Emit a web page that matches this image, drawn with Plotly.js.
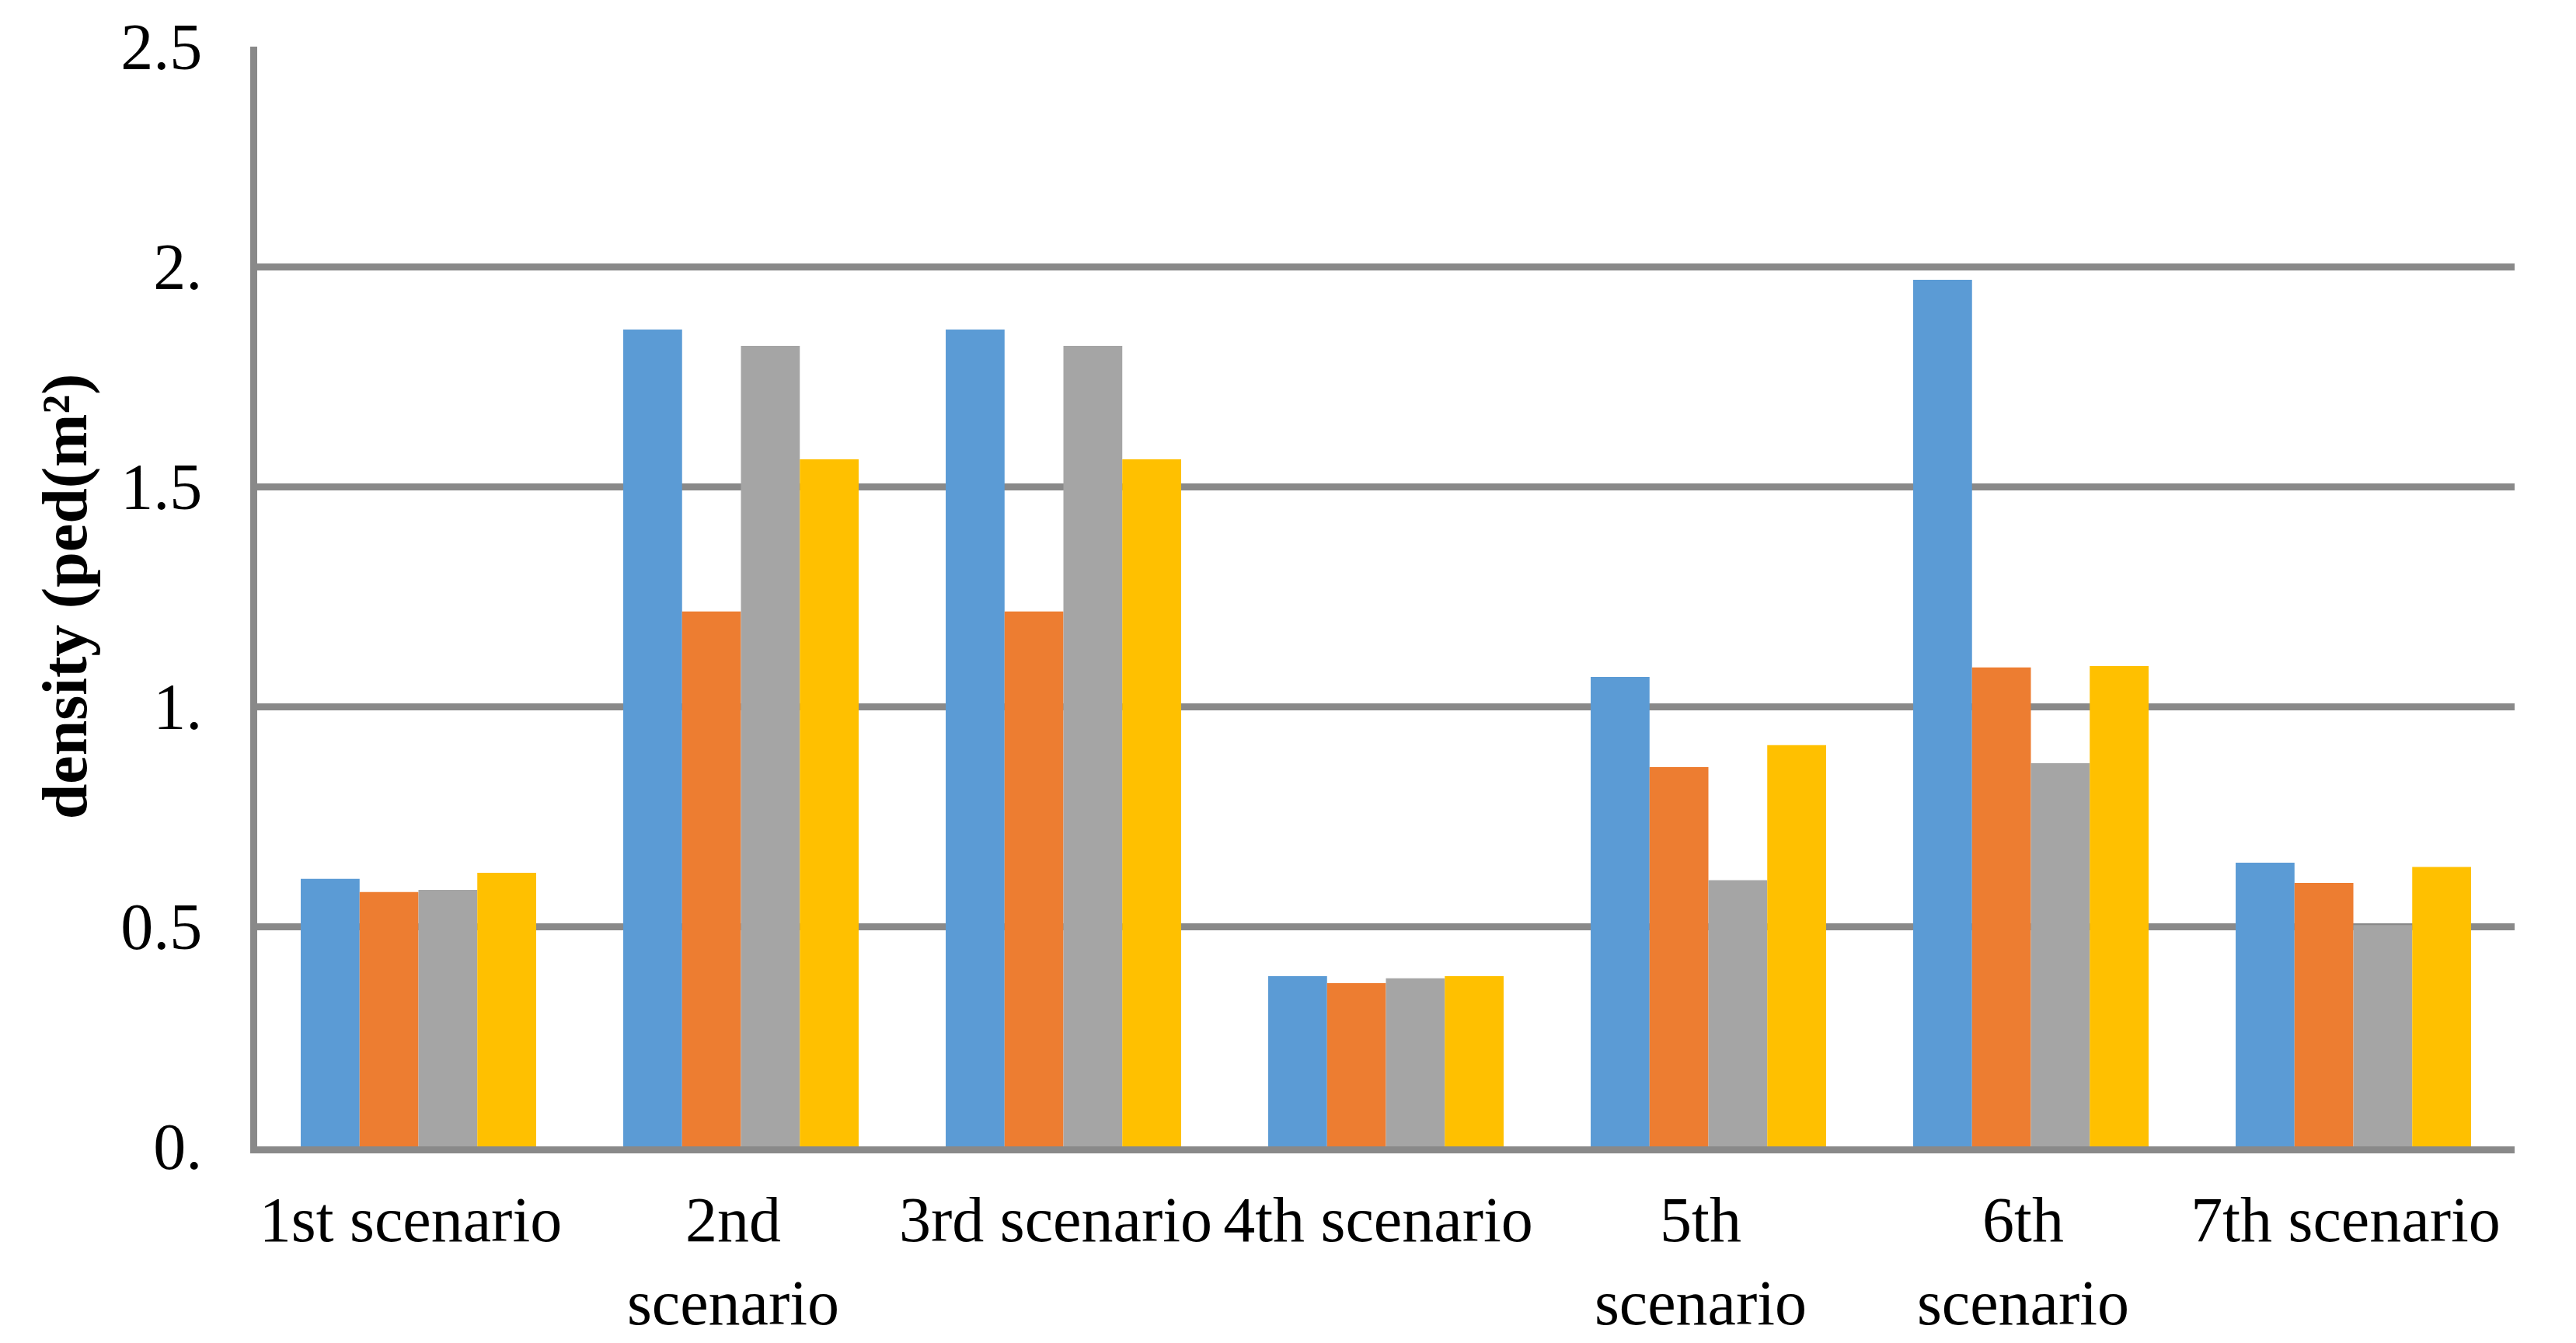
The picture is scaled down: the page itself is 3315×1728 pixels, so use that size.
<!DOCTYPE html>
<html>
<head>
<meta charset="utf-8">
<script src="https://cdn.plot.ly/plotly-3.0.1.min.js"></script>
<style>html,body{margin:0;padding:0;background:#fff;}</style>
</head>
<body>
<div id="chart"></div>
<script>
const categories = ["1st scenario", "2nd<br>scenario", "3rd scenario", "4th scenario", "5th<br>scenario", "6th<br>scenario", "7th scenario"];
const series1 = [0.608, 1.857, 1.857, 0.387, 1.067, 1.970, 0.645];
const series2 = [0.578, 1.216, 1.216, 0.371, 0.862, 1.089, 0.599];
const series3 = [0.583, 1.820, 1.820, 0.382, 0.605, 0.871, 0.503];
const series4 = [0.622, 1.562, 1.562, 0.387, 0.912, 1.092, 0.635];
const yTickVals = [0, 0.5, 1, 1.5, 2, 2.5];
const yTickText = ["0.", "0.5", "1.", "1.5", "2.", "2.5"];

const colors = ["#5B9BD5", "#ED7D31", "#A5A5A5", "#FFC000"];
const allSeries = [series1, series2, series3, series4];
const names = ["Series 1", "Series 2", "Series 3", "Series 4"];

const traces = allSeries.map((s, i) => ({
  type: "bar",
  x: categories,
  y: s,
  name: names[i],
  marker: {color: colors[i], line: {width: 0}},
  hoverinfo: "y"
}));

const fontFam = "'Liberation Serif', 'Times New Roman', serif";
const gridCol = "#898989";

const layout = {
  width: 3315,
  height: 1728,
  autosize: false,
  paper_bgcolor: "#ffffff",
  plot_bgcolor: "#ffffff",
  showlegend: false,
  barmode: "group",
  bargap: 0.27,
  bargroupgap: 0,
  margin: {l: 331, r: 79, t: 60, b: 253, pad: 0},
  font: {family: fontFam, color: "#000000"},
  xaxis: {
    type: "category",
    automargin: false,
    tickangle: 0,
    ticks: "",
    ticklabelstandoff: 15,
    ticklabelshift: -10,
    tickfont: {family: fontFam, size: 82, color: "#000000"},
    showline: true,
    linecolor: gridCol,
    linewidth: 9,
    showgrid: false,
    zeroline: false
  },
  yaxis: {
    range: [0, 2.5],
    automargin: false,
    tickmode: "array",
    tickvals: yTickVals,
    ticktext: yTickText,
    ticks: "",
    ticklabelstandoff: 45,
    tickfont: {family: fontFam, size: 84, color: "#000000"},
    showline: true,
    linecolor: gridCol,
    linewidth: 9,
    showgrid: true,
    gridcolor: gridCol,
    gridwidth: 9,
    zeroline: false,
    title: {
      text: "density (ped(m²)",
      font: {family: fontFam, size: 82, color: "#000000", weight: "bold"},
      standoff: 20
    }
  }
};

Plotly.newPlot("chart", traces, layout, {displayModeBar: false, staticPlot: true});
</script>
</body>
</html>
